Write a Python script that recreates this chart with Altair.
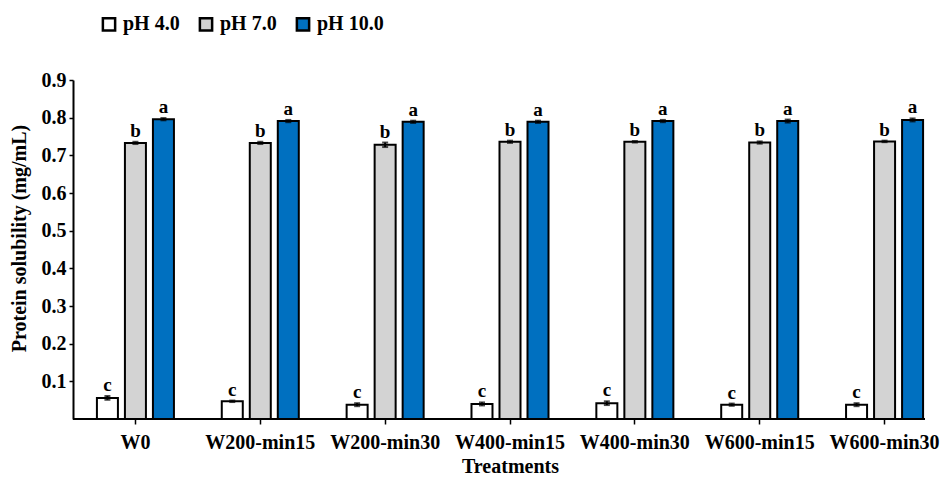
import altair as alt
import pandas as pd

treatments = ["W0", "W200-min15", "W200-min30", "W400-min15", "W400-min30", "W600-min15", "W600-min30"]
groups = ["pH 4.0", "pH 7.0", "pH 10.0"]
colors = ["#ffffff", "#d3d3d3", "#0070c0"]

ph4 = [0.056, 0.047, 0.038, 0.040, 0.042, 0.038, 0.038]
ph7 = [0.733, 0.733, 0.728, 0.736, 0.736, 0.734, 0.737]
ph10 = [0.796, 0.791, 0.789, 0.789, 0.791, 0.791, 0.794]

err4 = [0.005, 0.002, 0.004, 0.004, 0.005, 0.003, 0.004]
err7 = [0.003, 0.003, 0.006, 0.003, 0.002, 0.003, 0.002]
err10 = [0.003, 0.003, 0.003, 0.003, 0.003, 0.004, 0.004]

let4 = ["c"] * 7
let7 = ["b"] * 7
let10 = ["a"] * 7

rows = []
for g, vals, errs, lets in zip(groups, [ph4, ph7, ph10], [err4, err7, err10], [let4, let7, let10]):
    for t, v, e, l in zip(treatments, vals, errs, lets):
        rows.append({"Treatment": t, "pH": g, "value": v, "lo": v - e, "hi": v + e, "letter": l})
df = pd.DataFrame(rows)

FONT = "Liberation Serif"

x = alt.X("Treatment:N", sort=treatments,
          scale=alt.Scale(range=[0, 874], paddingInner=0, paddingOuter=0),
          axis=alt.Axis(title="Treatments", labelAngle=0, domain=False, tickColor="black",
                        tickSize=5, tickWidth=1.5, labelPadding=8, titlePadding=4))
xo = alt.XOffset("pH:N", sort=groups, scale=alt.Scale(paddingInner=0.25, paddingOuter=0.854))

base = alt.Chart(df)

bars = base.mark_bar(stroke="black", strokeWidth=2).encode(
    x=x, xOffset=xo,
    y=alt.Y("value:Q", scale=alt.Scale(domain=[0, 0.9], nice=False),
            axis=alt.Axis(title="Protein solubility (mg/mL)", values=[0.1, 0.2, 0.3, 0.4, 0.5, 0.6, 0.7, 0.8, 0.9],
                          format=".1f", grid=False, domainColor="black", domainWidth=2,
                          tickColor="black", tickSize=4, tickWidth=1.5, labelPadding=3, titlePadding=12,
                          titleY=158)),
    color=alt.Color("pH:N", sort=groups, scale=alt.Scale(domain=groups, range=colors),
                    legend=alt.Legend(title=None, orient="none", legendX=26, legendY=-66,
                                      direction="horizontal", symbolType="square", symbolSize=150,
                                      symbolStrokeColor="black", symbolStrokeWidth=2.5,
                                      symbolOpacity=1, labelFont=FONT, labelFontSize=20,
                                      labelFontWeight="bold", labelColor="black",
                                      labelOffset=4, columnPadding=14)),
)

err = base.mark_rule(color="black", strokeWidth=2).encode(
    x=x, xOffset=xo, y="lo:Q", y2="hi:Q")
cap_hi = base.mark_tick(color="black", thickness=2, size=6, orient="horizontal").encode(
    x=x, xOffset=xo, y="hi:Q")
cap_lo = base.mark_tick(color="black", thickness=2, size=6, orient="horizontal").encode(
    x=x, xOffset=xo, y="lo:Q")

letters = base.mark_text(font=FONT, fontSize=19, fontWeight="bold", color="black",
                         baseline="bottom", dy=-1).encode(
    x=x, xOffset=xo, y="hi:Q", text="letter:N")

x_line = alt.Chart(pd.DataFrame({"a": [0]})).mark_rule(color="black", strokeWidth=2).encode(
    x=alt.value(0), x2=alt.value(852), y=alt.value(339))

chart = alt.layer(bars, err, cap_hi, cap_lo, letters, x_line).properties(
    width=852, height=339,
    autosize=alt.AutoSizeParams(type="none"),
    padding={"left": 73, "top": 80, "right": 15, "bottom": 60}
).configure_view(stroke=None).configure_axis(
    labelFont=FONT, labelFontSize=20, labelFontWeight="bold", labelColor="black",
    titleFont=FONT, titleFontSize=20, titleFontWeight="bold", titleColor="black"
)

chart.save("out.html", embed_options={"renderer": "svg", "actions": False})
